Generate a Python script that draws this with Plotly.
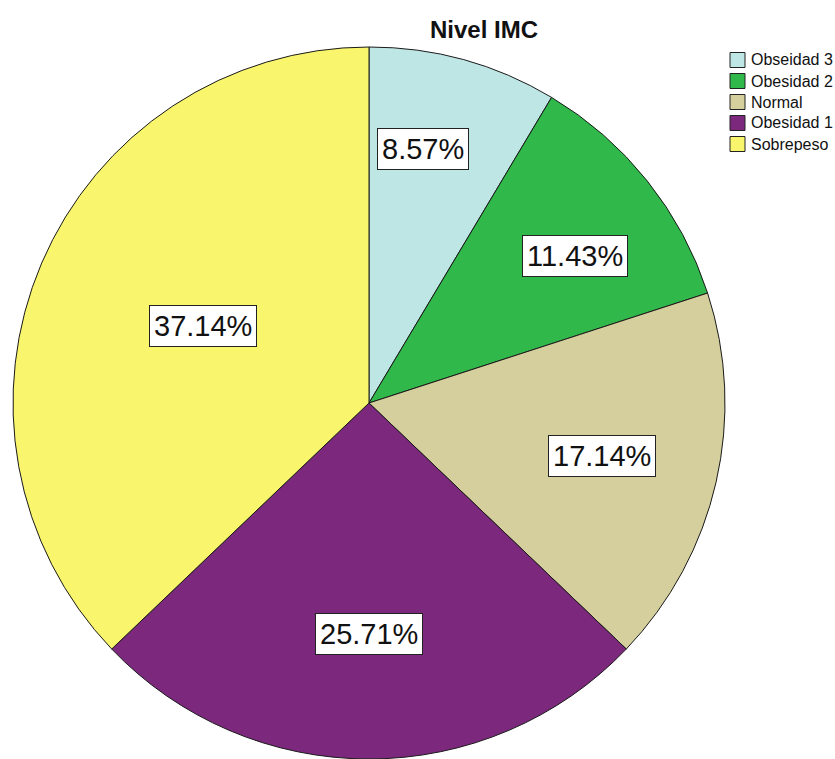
import math
import plotly.graph_objects as go

# Nivel IMC distribution (percent of participants)
categories = ["Obseidad 3", "Obesidad 2", "Normal", "Obesidad 1", "Sobrepeso"]
percentages = [8.57, 11.43, 17.14, 25.71, 37.14]
colors = ["#BEE6E5", "#30B84B", "#D4CF9C", "#7C297D", "#F9F56D"]

W, H = 835, 759
FONT = "Liberation Sans, Arial, sans-serif"

# pie geometry in pixels
cx, cy, r = 369, 403, 356

fig = go.Figure(
    go.Pie(
        labels=categories,
        values=percentages,
        sort=False,
        direction="clockwise",
        rotation=0,
        marker=dict(colors=colors, line=dict(color="#1a1a1a", width=1)),
        textinfo="none",
        hoverinfo="label+percent",
        showlegend=False,
        domain=dict(x=[(cx - r) / W, (cx + r) / W], y=[1 - (cy + r) / H, 1 - (cy - r) / H]),
    )
)

# boxed percentage labels placed along each slice's middle angle
label_frac = [0.73, 0.71, 0.67, 0.65, 0.514]
label_turn = [-3.4, 3, 0, 0, 1.8]
total = sum(percentages)
start = 0.0
annotations = []
for i, p in enumerate(percentages):
    span = 360 * p / total
    mid = math.radians(start + span / 2 + label_turn[i])
    start += span
    px = cx + label_frac[i] * r * math.sin(mid)
    py = cy - label_frac[i] * r * math.cos(mid)
    annotations.append(dict(
        x=px / W, y=1 - py / H, xref="paper", yref="paper",
        text=f"{p:.2f}%", showarrow=False,
        font=dict(family=FONT, size=29, color="#111111"),
        bgcolor="white", bordercolor="#222222", borderwidth=1, borderpad=4,
        xanchor="center", yanchor="middle",
    ))

# title
annotations.append(dict(
    x=484 / W, y=1 - 30 / H, xref="paper", yref="paper",
    text="<b>Nivel IMC</b>", showarrow=False,
    font=dict(family=FONT, size=24, color="#111111"),
    xanchor="center", yanchor="middle",
))

# legend: colour swatch plus category name per row
shapes = []
row0, step, sw = 60, 21, 15
for i, (name, col) in enumerate(zip(categories, colors)):
    yc = row0 + i * step
    shapes.append(dict(
        type="rect", xref="paper", yref="paper",
        x0=730 / W, x1=(730 + sw) / W,
        y0=1 - (yc + sw / 2) / H, y1=1 - (yc - sw / 2) / H,
        fillcolor=col, line=dict(color="#222222", width=1),
    ))
    annotations.append(dict(
        x=749 / W, y=1 - yc / H, xref="paper", yref="paper",
        text=name, showarrow=False,
        font=dict(family=FONT, size=16, color="#111111"),
        xanchor="left", yanchor="middle",
    ))

fig.update_layout(
    width=W, height=H,
    margin=dict(l=0, r=0, t=0, b=0),
    paper_bgcolor="white", plot_bgcolor="white",
    annotations=annotations, shapes=shapes,
)

fig.write_html("out.html")
